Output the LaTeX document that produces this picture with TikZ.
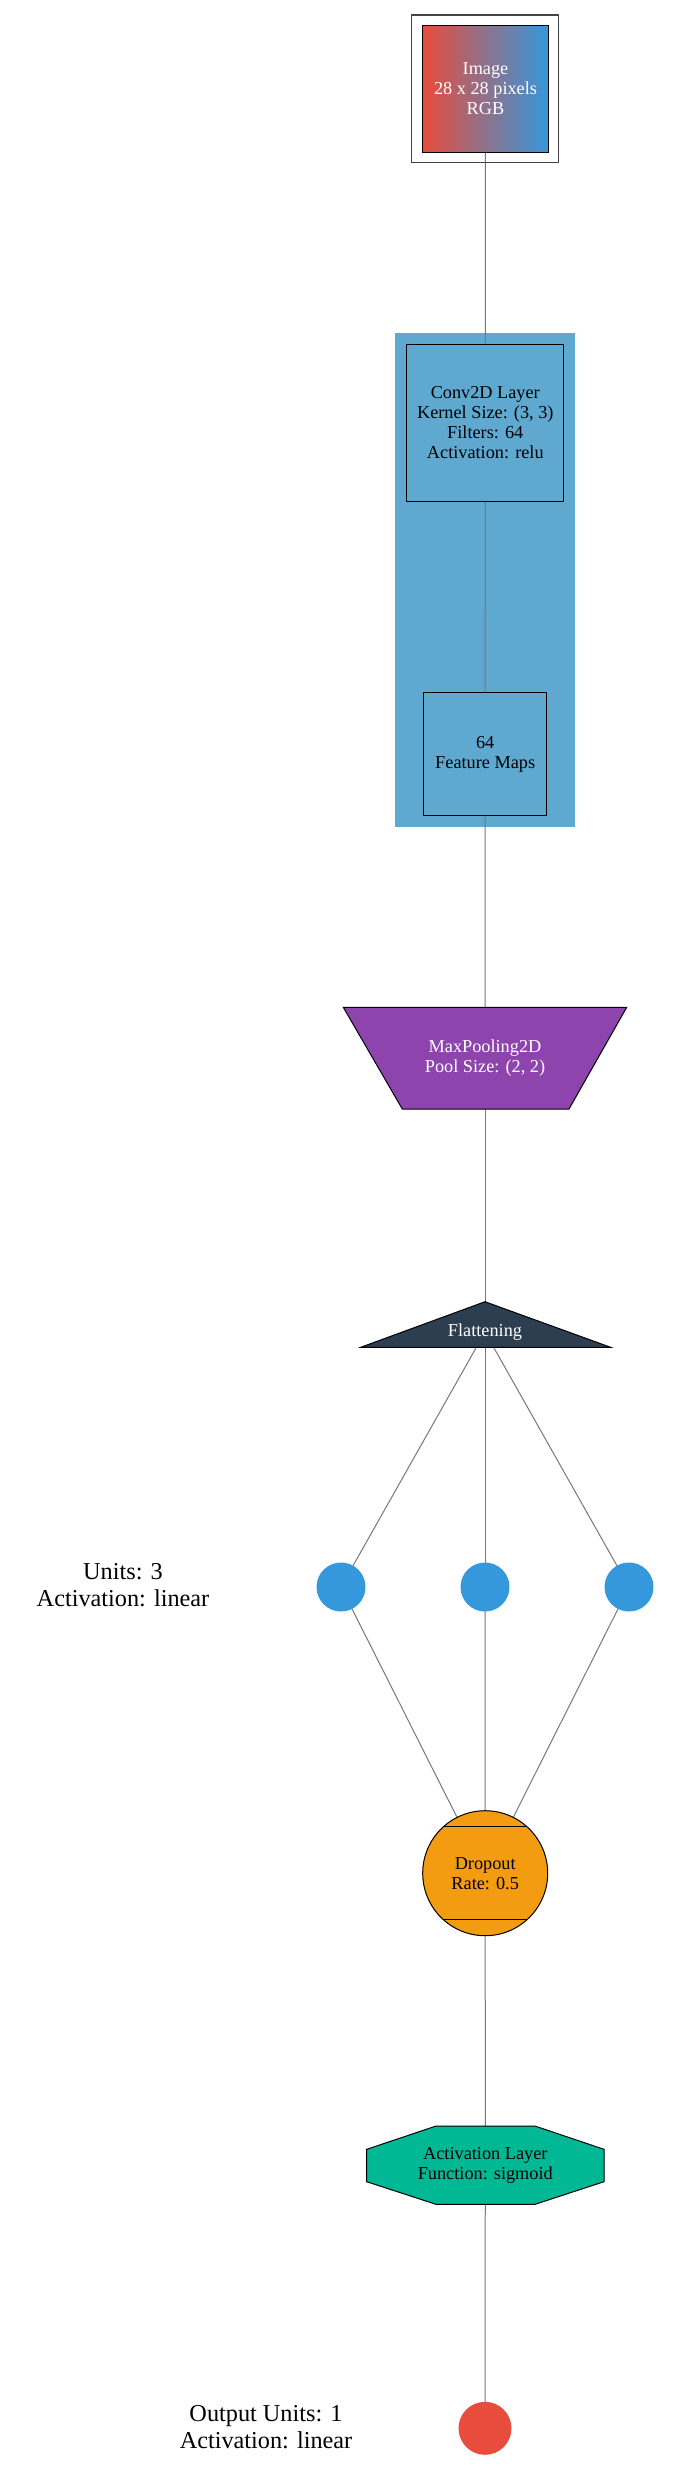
\documentclass[tikz,border=0pt]{standalone}
\usepackage{fontspec}
\setmainfont{Liberation Serif}
\usetikzlibrary{calc}
\pgfdeclarelayer{bg}
\pgfdeclarelayer{edges}
\pgfsetlayers{bg,edges,main}
\definecolor{cRed}{HTML}{E74C3C}
\definecolor{cBlue}{HTML}{3498DB}
\definecolor{cCluster}{RGB}{95,168,208}
\definecolor{cPurple}{HTML}{8E44AD}
\definecolor{cNavy}{HTML}{2C3E50}
\definecolor{cOrange}{HTML}{F39C12}
\definecolor{cGreen}{HTML}{00B894}
\definecolor{cEdge}{HTML}{777777}
\definecolor{cFrame}{HTML}{444444}
\begin{document}
\begin{tikzpicture}[x=0.75pt,y=-0.75pt,
  txt/.style={align=center,inner sep=0pt,font=\fontsize{13.7}{15}\selectfont},
  box/.style={txt,draw=black,line width=0.75pt},
  shapeline/.style={draw=black,line width=0.75pt},
  lbl/.style={align=center,inner sep=0pt,font=\fontsize{18.2}{20.5}\selectfont},
  edge/.style={draw=cEdge,line width=0.75pt},
  unit/.style={circle,fill=cBlue,inner sep=0pt,minimum size=36.75pt}]
\useasboundingbox (0,0) rectangle (680,2487);

% cluster background
\begin{pgfonlayer}{bg}
  \fill[cCluster] (395,332.7) rectangle (575,826.7);
\end{pgfonlayer}

% image
\draw[draw=cFrame,line width=1pt] (411.7,15) rectangle (558.7,162.7);
\node[box,left color=cRed,right color=cBlue,text=white,minimum width=94.8pt,minimum height=94.5pt] (img) at (485.5,89) {Image\\28 x 28 pixels\\RGB};

% conv cluster
\node[box,fill=cCluster,minimum width=118pt,minimum height=117.75pt] (conv) at (485.3,422.5) {Conv2D Layer\\Kernel Size: (3, 3)\\Filters: 64\\Activation: relu};
\node[box,fill=cCluster,minimum width=92.25pt,minimum height=92.5pt] (feat) at (485.2,754.3) {64\\Feature Maps};

% maxpooling trapezoid
\path[shapeline,fill=cPurple] (343.3,1007.3) -- (626.7,1007.3) -- (569,1109) -- (402.3,1109) -- cycle;
\node[txt,text=white] (pool) at (485,1058.3) {MaxPooling2D\\Pool Size: (2, 2)};

% flattening triangle
\path[shapeline,fill=cNavy] (485,1301.7) -- (610.7,1347.3) -- (360.7,1347.3) -- cycle;
\node[txt,text=white] (flat) at (485,1332) {Flattening};

% dense units
\node[unit] (u1) at (341,1587) {};
\node[unit] (u2) at (485,1587) {};
\node[unit] (u3) at (629,1587) {};
\node[lbl] (ulbl) at (123,1585) {Units: 3\\Activation: linear};

% dropout
\node[circle,txt,draw=black,line width=0.75pt,fill=cOrange,minimum size=93.75pt] (drop) at (485.2,1873.2) {Dropout\\Rate: 0.5};
\draw[line width=0.75pt] ($(drop.center)+(-41.8,-46.5)$) -- ($(drop.center)+(41.8,-46.5)$);
\draw[line width=0.75pt] ($(drop.center)+(-41.8,46.5)$) -- ($(drop.center)+(41.8,46.5)$);

% activation octagon
\path[shapeline,fill=cGreen] (436,2126) -- (535,2126) -- (604,2149.3) -- (604,2181.7) -- (535,2204.3) -- (436,2204.3) -- (366.7,2181.7) -- (366.7,2149.3) -- cycle;
\node[txt] (act) at (485.3,2165) {Activation Layer\\Function: sigmoid};

% output
\node[circle,fill=cRed,inner sep=0pt,minimum size=39.75pt] (out) at (485,2428.3) {};
\node[lbl] (olbl) at (266,2427) {Output Units: 1\\Activation: linear};

% edges
\begin{pgfonlayer}{edges}
  \draw[edge] (img.center) -- (conv.center);
  \draw[edge] (conv.center) -- (feat.center);
  \draw[edge] (feat.center) -- (pool.center);
  \draw[edge] (pool.center) -- (flat.center);
  \draw[edge] (flat.center) -- (u1.center);
  \draw[edge] (flat.center) -- (u2.center);
  \draw[edge] (flat.center) -- (u3.center);
  \draw[edge] (u1.center) -- (drop.center);
  \draw[edge] (u2.center) -- (drop.center);
  \draw[edge] (u3.center) -- (drop.center);
  \draw[edge] (drop.center) -- (act.center);
  \draw[edge] (act.center) -- (out.center);
\end{pgfonlayer}
\end{tikzpicture}
\end{document}
